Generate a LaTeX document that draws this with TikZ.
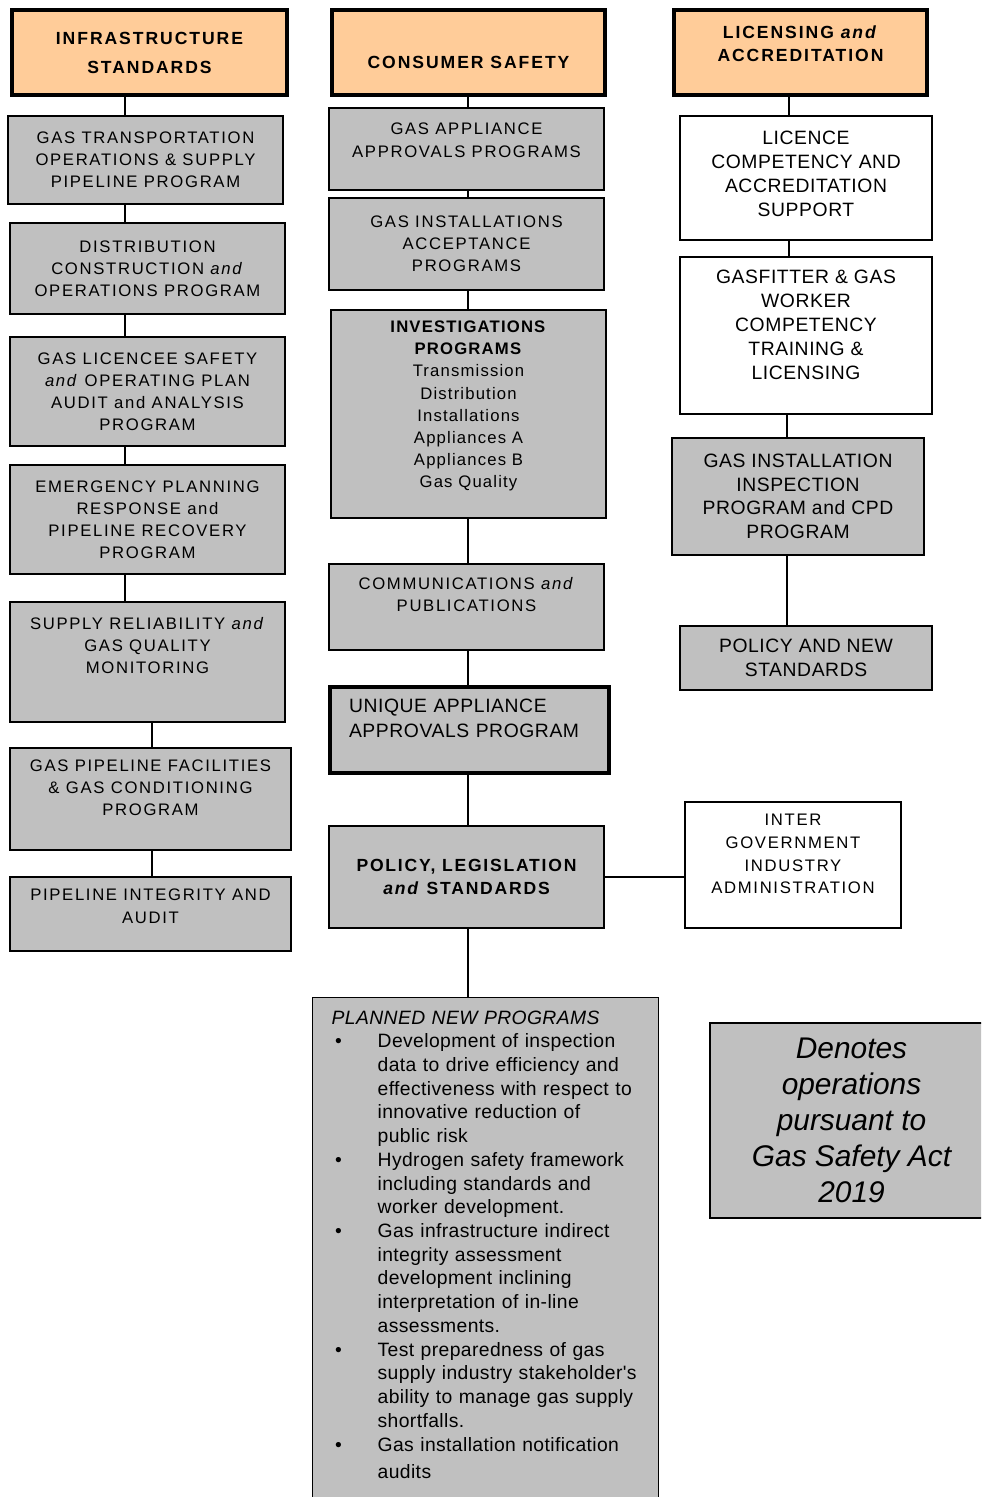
\documentclass[tikz,border=0pt]{standalone}
\usepackage{fontspec}
\setmainfont{Liberation Sans}
\newfontfamily\widefont[LetterSpace=10]{Liberation Sans}
\newfontfamily\headfont[LetterSpace=11]{Liberation Sans}
\newfontfamily\listfont[LetterSpace=2]{Liberation Sans}
\newfontfamily\rightfont[LetterSpace=3]{Liberation Sans}

\definecolor{peach}{HTML}{FFCC99}
\definecolor{silver}{HTML}{C0C0C0}

\newcommand{\liftby}[1]{\rule[-#1]{0pt}{#1}}
\newcommand{\dropby}[1]{\rule{0pt}{#1}}

\tikzstyle{header} = [rectangle, draw=black, line width=2.4pt, fill=peach, align=center, minimum height=1.7cm, font=\headfont\bfseries\fontsize{10}{16.5}\selectfont]
\tikzstyle{program} = [rectangle, draw=black, line width=0.8pt, fill=silver, align=center, font=\widefont\fontsize{9.5}{12.6}\selectfont]
\tikzstyle{support} = [program, fill=white, font=\rightfont\fontsize{11}{13.6}\selectfont]
\tikzstyle{link} = [line width=0.8pt]

\begin{document}
\begin{tikzpicture}[x=0.02cm, y=-0.02cm]
\useasboundingbox (0,0) rectangle (981,1497);
\clip (0,0) rectangle (981,1497);

% Infrastructure column
\node (infra) [header, minimum width=5.5cm] at (149.5,52.5) {INFRASTRUCTURE\\STANDARDS};
\node (transport) [program, minimum width=5.5cm, minimum height=1.76cm] at (145.5,160) {GAS TRANSPORTATION\\OPERATIONS \& SUPPLY\\PIPELINE PROGRAM};
\node (distrib) [program, minimum width=5.5cm, minimum height=1.82cm] at (147.5,268.5) {DISTRIBUTION\\CONSTRUCTION \textit{and}\\OPERATIONS PROGRAM};
\node (licencee) [program, minimum width=5.5cm, minimum height=2.18cm] at (147.5,391.5) {GAS LICENCEE SAFETY\\\textit{and} OPERATING PLAN\\AUDIT and ANALYSIS\\PROGRAM};
\node (emergency) [program, minimum width=5.5cm, minimum height=2.18cm] at (147.5,519.5) {EMERGENCY PLANNING\\RESPONSE and\\PIPELINE RECOVERY\\PROGRAM};
\node (supply) [program, minimum width=5.5cm, minimum height=2.4cm] at (147.5,662) {SUPPLY RELIABILITY \textit{and}\\GAS QUALITY\\MONITORING\liftby{19pt}};
\node (facilities) [program, minimum width=5.62cm, minimum height=2.04cm] at (150.5,799) {GAS PIPELINE FACILITIES\\\& GAS CONDITIONING\\PROGRAM\liftby{12.5pt}};
\node (integrity) [program, minimum width=5.62cm, minimum height=1.48cm] at (150.5,914) {PIPELINE INTEGRITY AND\\AUDIT\liftby{9pt}};

% Consumer safety column
\node (consumer) [header, minimum width=5.46cm] at (468.5,52.5) {\dropby{18.5pt}CONSUMER SAFETY};
\node (approvals) [program, minimum width=5.5cm, minimum height=1.64cm] at (466.5,149) {GAS APPLIANCE\\APPROVALS PROGRAMS\liftby{10pt}};
\node (installs) [program, minimum width=5.5cm, minimum height=1.84cm] at (466.5,244) {GAS INSTALLATIONS\\ACCEPTANCE\\PROGRAMS};
\node (investig) [program, font=\listfont\fontsize{9.5}{12.6}\selectfont\addfontfeatures{LetterSpace=7}, minimum width=5.5cm, minimum height=4.16cm] at (468.5,414) {\textbf{INVESTIGATIONS}\\\textbf{PROGRAMS}\\Transmission\\Distribution\\Installations\\Appliances A\\Appliances B\\Gas Quality\liftby{11pt}};
\node (comms) [program, minimum width=5.5cm, minimum height=1.72cm] at (466.5,607) {COMMUNICATIONS \textit{and}\\PUBLICATIONS\liftby{14.7pt}};
\node (unique) [program, line width=2.4pt, align=left, text width=4.82cm, font=\rightfont\fontsize{11}{14}\selectfont, minimum width=5.58cm, minimum height=1.72cm] at (469.5,730) {UNIQUE APPLIANCE\\APPROVALS PROGRAM\liftby{13.6pt}};
\node (policy) [program, font=\widefont\bfseries\fontsize{10}{13}\selectfont, minimum width=5.5cm, minimum height=2.04cm] at (466.5,877) {POLICY, LEGISLATION\\\textit{and} STANDARDS};
\node (planned) [program, anchor=north west, minimum width=6.92cm, minimum height=10.5cm, text width=6.16cm, align=left, font=\listfont\fontsize{11}{13.5}\selectfont] at (312,997) {%
\begin{tabular}{@{}p{0.92cm}@{}l@{}}
\multicolumn{2}{@{}l@{}}{\itshape PLANNED NEW PROGRAMS}\\
\hspace{2pt}\textbullet & Development of inspection\\
 & data to drive efficiency and\\
 & effectiveness with respect to\\
 & innovative reduction of\\
 & public risk\\
\hspace{2pt}\textbullet & Hydrogen safety framework\\
 & including standards and\\
 & worker development.\\
\hspace{2pt}\textbullet & Gas infrastructure indirect\\
 & integrity assessment\\
 & development inclining\\
 & interpretation of in-line\\
 & assessments.\\
\hspace{2pt}\textbullet & Test preparedness of gas\\
 & supply industry stakeholder's\\
 & ability to manage gas supply\\
 & shortfalls.\\
\hspace{2pt}\textbullet & Gas installation notification\\[2pt]
 & audits\liftby{19.7pt}
\end{tabular}};

% Licensing column
\node (licensing) [header, font=\headfont\bfseries\fontsize{10}{13}\selectfont, minimum width=5.06cm] at (800.5,52.5) {LICENSING \textit{and}\\ACCREDITATION\liftby{10pt}};
\node (competency) [support, minimum width=5.04cm, minimum height=2.48cm] at (806,178) {LICENCE\\COMPETENCY AND\\ACCREDITATION\\SUPPORT\liftby{5pt}};
\node (gasfitter) [support, minimum width=5.04cm, minimum height=3.14cm] at (806,335.5) {GASFITTER \& GAS\\WORKER\\COMPETENCY\\TRAINING \&\\LICENSING\liftby{12.5pt}};
\node (inspection) [program, font=\rightfont\fontsize{11}{13.4}\selectfont, minimum width=5.04cm, minimum height=2.34cm] at (798,496.5) {GAS INSTALLATION\\INSPECTION\\PROGRAM and CPD\\PROGRAM};
\node (newstd) [program, font=\rightfont\fontsize{11}{14}\selectfont, minimum width=5.04cm, minimum height=1.28cm] at (806,658) {POLICY AND NEW\\STANDARDS};
\node (intergov) [support, font=\widefont\fontsize{9.5}{12.9}\selectfont, minimum width=4.32cm, minimum height=2.52cm] at (793,865) {INTER\\GOVERNMENT\\INDUSTRY\\ADMINISTRATION\liftby{12.5pt}};
\node (denotes) [program, font=\itshape\fontsize{17}{20.5}\selectfont, minimum width=5.66cm, minimum height=3.9cm] at (851.5,1120.5) {Denotes\\operations\\pursuant to\\Gas Safety Act\\2019};

% Line positions
\coordinate (leftline) at (125,0);
\coordinate (leftline2) at (152,0);
\coordinate (midline) at (468,0);
\coordinate (rightline) at (789,0);
\coordinate (rightline2) at (787,0);

% Draw connectors
\draw [link] (infra.south -| leftline) -- (transport.north -| leftline);
\draw [link] (transport.south -| leftline) -- (distrib.north -| leftline);
\draw [link] (distrib.south -| leftline) -- (licencee.north -| leftline);
\draw [link] (licencee.south -| leftline) -- (emergency.north -| leftline);
\draw [link] (emergency.south -| leftline) -- (supply.north -| leftline);
\draw [link] (supply.south -| leftline2) -- (facilities.north -| leftline2);
\draw [link] (facilities.south -| leftline2) -- (integrity.north -| leftline2);

\draw [link] (consumer.south -| midline) -- (approvals.north -| midline);
\draw [link] (approvals.south -| midline) -- (installs.north -| midline);
\draw [link] (installs.south -| midline) -- (investig.north -| midline);
\draw [link] (investig.south -| midline) -- (comms.north -| midline);
\draw [link] (comms.south -| midline) -- (unique.north -| midline);
\draw [link] (unique.south -| midline) -- (policy.north -| midline);
\draw [link] (policy.south -| midline) -- (planned.north -| midline);
\draw [link] (policy.east) -- (intergov.west |- policy.east);

\draw [link] (licensing.south -| rightline) -- (competency.north -| rightline);
\draw [link] (competency.south -| rightline) -- (gasfitter.north -| rightline);
\draw [link] (gasfitter.south -| rightline2) -- (inspection.north -| rightline2);
\draw [link] (inspection.south -| rightline2) -- (newstd.north -| rightline2);

\end{tikzpicture}
\end{document}
